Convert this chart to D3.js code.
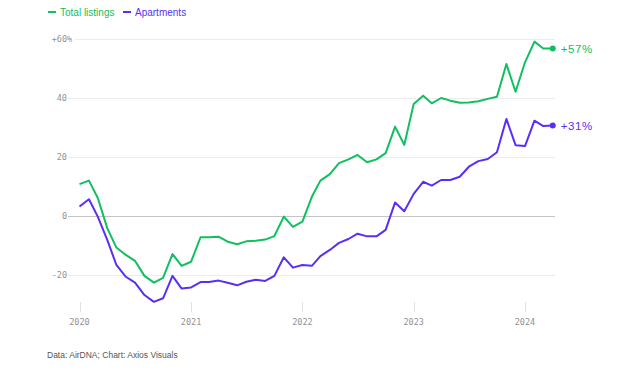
<!DOCTYPE html>
<html>
<head>
<meta charset="utf-8">
<script src="https://cdn.jsdelivr.net/npm/d3@7"></script>
<style>
  body { margin: 0; background: #fff; }
  svg { display: block; }
</style>
</head>
<body>
<div id="chart"></div>
<script>
// --------------------------------------
//  Data
// --------------------------------------

const months = d3.range(52).map(i => new Date(2020, i, 1));

// year-over-year change, %
const totalListings = [
  10.8, 12.0, 6.1, -4.1, -10.7, -13.2, -15.2, -20.3, -22.6, -21.0, -12.9, -16.9,
  -15.5, -7.2, -7.2, -7.0, -8.7, -9.6, -8.6, -8.4, -8.0, -6.8, -0.2, -3.7,
  -1.9, 6.5, 12.0, 14.2, 17.9, 19.2, 20.7, 18.2, 19.2, 21.3, 30.3, 24.1,
  38.0, 40.8, 38.2, 40.0, 39.1, 38.4, 38.5, 38.9, 39.7, 40.4, 51.5, 42.1,
  52.1, 59.1, 56.8, 56.8
];

const apartments = [
  3.2, 5.7, -0.2, -8.1, -16.6, -20.6, -22.6, -26.8, -29.1, -27.9, -20.3, -24.6,
  -24.2, -22.4, -22.4, -21.9, -22.6, -23.5, -22.3, -21.6, -22.0, -20.3, -14.0, -17.5,
  -16.6, -16.9, -13.6, -11.5, -9.1, -7.8, -6.0, -6.9, -6.9, -4.7, 4.6, 1.6,
  7.5, 11.6, 10.3, 12.2, 12.2, 13.3, 16.7, 18.6, 19.3, 21.6, 32.9, 24.0,
  23.7, 32.3, 30.5, 30.7
];

const seriesNames = ["Total listings", "Apartments"];
const seriesColors = ["#10bf5f", "#5a2ff5"];
const endLabels = ["+57%", "+31%"];

const yTicks = [60, 40, 20, 0, -20];
const xTicks = [2020, 2021, 2022, 2023, 2024];

// --------------------------------------
//  Canvas
// --------------------------------------

const width = 640;
const height = 378;

const svg = d3.select("#chart")
  .append("svg")
    .attr("width", width)
    .attr("height", height);

const x = d3.scaleTime()
  .domain([new Date(2020, 0, 1), new Date(2024, 0, 1)])
  .range([79.5, 525]);

const y = d3.scaleLinear()
  .domain([-20, 60])
  .range([275, 39]);

const monoFont = "'DejaVu Sans Mono', 'Liberation Mono', monospace";
const sansFont = "'Liberation Sans', Arial, sans-serif";

// --------------------------------------
//  Gridlines + y labels
// --------------------------------------

svg.selectAll("line.grid")
  .data(yTicks)
  .join("line")
    .attr("class", "grid")
    .attr("x1", d => d === 60 ? 75 : 68)
    .attr("x2", 555)
    .attr("y1", d => y(d) + 0.5)
    .attr("y2", d => y(d) + 0.5)
    .attr("stroke", d => d === 0 ? "#c4c4c4" : "#ececec")
    .attr("stroke-width", 1);

svg.selectAll("text.ylab")
  .data(yTicks)
  .join("text")
    .attr("class", "ylab")
    .attr("x", 67)
    .attr("y", d => y(d))
    .attr("dy", "0.35em")
    .attr("text-anchor", "end")
    .attr("font-family", monoFont)
    .attr("font-size", 8.5)
    .attr("fill", "#929292")
    .text(d => d === 60 ? "+" + d : d);

// percent sign hangs off the top label
svg.append("text")
  .attr("x", 67)
  .attr("y", y(60))
  .attr("dy", "0.35em")
  .attr("font-family", monoFont)
  .attr("font-size", 8.5)
  .attr("fill", "#929292")
  .text("%");

// --------------------------------------
//  X axis ticks
// --------------------------------------

svg.selectAll("line.xtick")
  .data(xTicks)
  .join("line")
    .attr("class", "xtick")
    .attr("x1", d => Math.round(x(new Date(d, 0, 1))) + 0.5)
    .attr("x2", d => Math.round(x(new Date(d, 0, 1))) + 0.5)
    .attr("y1", 302)
    .attr("y2", 312)
    .attr("stroke", "#e2e2e2");

svg.selectAll("text.xlab")
  .data(xTicks)
  .join("text")
    .attr("class", "xlab")
    .attr("x", d => x(new Date(d, 0, 1)))
    .attr("y", 325)
    .attr("text-anchor", "middle")
    .attr("font-family", monoFont)
    .attr("font-size", 8.5)
    .attr("fill", "#929292")
    .text(d => d);

// --------------------------------------
//  Lines
// --------------------------------------

const line = d3.line()
  .x((d, i) => x(months[i]))
  .y(d => y(d));

const series = [totalListings, apartments];

svg.selectAll("path.series")
  .data(series)
  .join("path")
    .attr("class", "series")
    .attr("d", line)
    .attr("fill", "none")
    .attr("stroke", (d, i) => seriesColors[i])
    .attr("stroke-width", 2)
    .attr("stroke-linejoin", "round");

const last = months.length - 1;

svg.selectAll("circle.end")
  .data(series)
  .join("circle")
    .attr("class", "end")
    .attr("cx", x(months[last]))
    .attr("cy", d => y(d[last]))
    .attr("r", 3)
    .attr("fill", (d, i) => seriesColors[i]);

svg.selectAll("text.endlab")
  .data(series)
  .join("text")
    .attr("class", "endlab")
    .attr("x", x(months[last]) + 8)
    .attr("y", d => y(d[last]))
    .attr("dy", "0.36em")
    .attr("font-family", sansFont)
    .attr("font-size", 11.5)
    .attr("letter-spacing", 0.6)
    .attr("fill", (d, i) => seriesColors[i])
    .text((d, i) => endLabels[i]);

// --------------------------------------
//  Legend
// --------------------------------------

const legendX = [48, 123];

svg.selectAll("line.leg")
  .data(seriesNames)
  .join("line")
    .attr("class", "leg")
    .attr("x1", (d, i) => legendX[i])
    .attr("x2", (d, i) => legendX[i] + 8)
    .attr("y1", 12)
    .attr("y2", 12)
    .attr("stroke", (d, i) => seriesColors[i])
    .attr("stroke-width", 2);

svg.selectAll("text.leg")
  .data(seriesNames)
  .join("text")
    .attr("class", "leg")
    .attr("x", (d, i) => legendX[i] + 12)
    .attr("y", 12)
    .attr("dy", "0.35em")
    .attr("font-family", sansFont)
    .attr("font-size", 10)
    .attr("fill", (d, i) => seriesColors[i])
    .text(d => d);

// --------------------------------------
//  Source
// --------------------------------------

svg.append("text")
  .attr("x", 47)
  .attr("y", 358)
  .attr("font-family", sansFont)
  .attr("font-size", 8.5)
  .attr("fill", "#555")
  .text("Data: AirDNA; Chart: Axios Visuals");
</script>
</body>
</html>
